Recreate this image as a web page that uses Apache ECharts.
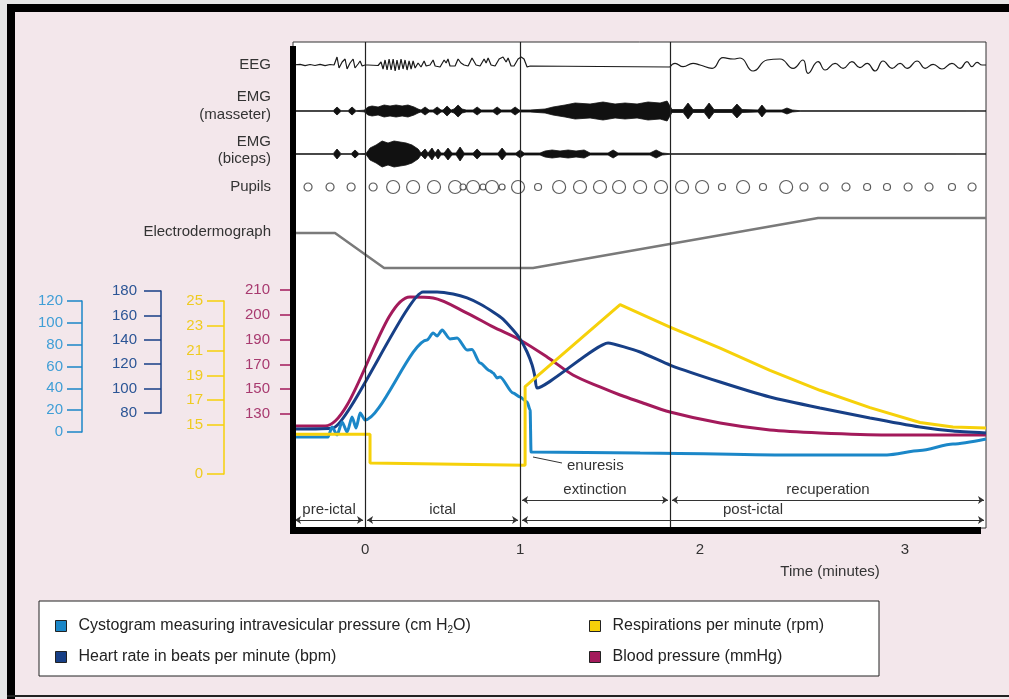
<!DOCTYPE html>
<html><head><meta charset="utf-8">
<script src="https://cdn.jsdelivr.net/npm/echarts@6/dist/echarts.min.js"></script>
<style>html,body{margin:0;padding:0;background:#e9e9e9}#c{width:1009px;height:699px}</style>
</head><body><div id="c"></div><script>
// ---------- time axis (minutes) ----------
const TIME_TICKS = [0, 1, 2, 3];
const T_MIN = -0.465, T_MAX = 3.395;
const BOUNDARIES = [0, 1, 1.833];
const PHASE_NAMES = ['pre-ictal', 'ictal', 'post-ictal', 'extinction', 'recuperation'];
const PHASE_START = [-0.465, 0, 1, 1, 1.833];
const PHASE_END = [0, 1, 3.395, 1.833, 3.395];
const PHASE_ROW = [0, 0, 0, 1, 1];

// ---------- upper traces ----------
const EEG_T = [-0.465,-0.419,-0.387,-0.355,-0.323,-0.290,-0.258,-0.226,-0.200,-0.181,-0.168,-0.148,-0.129,-0.116,-0.097,-0.077,-0.065,-0.045,-0.032,-0.019,0,0.019,0.084,0.103,0.116,0.129,0.142,0.155,0.168,0.181,0.194,0.206,0.219,0.232,0.245,0.258,0.271,0.284,0.297,0.310,0.323,0.342,0.361,0.381,0.394,0.419,0.439,0.452,0.484,0.510,0.523,0.535,0.548,0.581,0.600,0.619,0.639,0.665,0.690,0.716,0.742,0.768,0.781,0.794,0.813,0.839,0.865,0.890,0.910,0.923,0.942,0.961,0.987,1.006,1.022,1.039,1.056,1.444,1.833];
const EEG_V = [0,0.7,-0.7,0.5,-0.5,0.7,-0.7,0.5,0,8,-3,3,6,-4,2,6,-3,1,4,-1,0,0,-0.5,3,-4,5,-5,6,-5,6,-6,5,-5,6,-4,5,-5,4,-4,4,-3,2,-2,4,-1,0,5,-1,-2,5,2,6,-1,-1,6,2,0,-1,7,0,-1,6,2,7,0,-1,6,8,3,7,-1,-1,6,8,6,-2,-1,-1.5,-2];
const EEG_POST_T = [1.833,1.861,1.906,1.961,2.0,2.059,2.112,2.161,2.195,2.259,2.327,2.390,2.454,2.502,2.527,2.576,2.610,2.659,2.698,2.741,2.780,2.815,2.854,2.893,2.937,2.976,3.010,3.059,3.098,3.137,3.180,3.229,3.268,3.302,3.327,3.351,3.376,3.395];
const EEG_POST_V = [-2,1.7,-1.7,1.7,0,-3.3,7.3,6,7,-6,5,6,-3.3,5,-8.3,3.3,-5,1.7,-3.3,3.3,-2.7,1.7,-6,4,-3.3,1.7,-3.3,4,-3.3,0.7,-4,1.7,-3.3,3.3,-1.7,2.7,0,0];

const EMG_M_T = [-0.465,-0.206,-0.181,-0.155,-0.110,-0.084,-0.058,-0.006,0.019,0.045,0.084,0.123,0.161,0.200,0.239,0.277,0.316,0.342,0.361,0.387,0.413,0.439,0.465,0.490,0.503,0.529,0.555,0.574,0.600,0.626,0.652,0.697,0.723,0.748,0.826,0.852,0.877,0.942,0.968,0.994,1.056,1.139,1.183,1.250,1.306,1.389,1.461,1.528,1.583,1.650,1.711,1.778,1.817,1.844,1.906,1.933,1.961,2.020,2.044,2.068,2.156,2.180,2.205,2.283,2.302,2.322,2.400,2.424,2.449,2.488,3.395];
const EMG_M_A = [0.3,0.3,4,0.3,0.3,4,0.3,0.8,4,5,4,6,5,6,5,6,4,2,1,4,1,1,4,1,1,5,1,2,6,2,1,1,4,1,1,4,1,1,4,1,1,2,4,6,8,7,9,7,8,7,9,8,10,1.5,1.5,8,1.5,1.5,8,1.5,1.5,7,1.5,1,6,1,1,3,1,0.3,0.3];

const EMG_B_T = [-0.465,-0.206,-0.181,-0.155,-0.090,-0.065,-0.039,0.006,0.032,0.071,0.110,0.148,0.187,0.226,0.265,0.303,0.342,0.361,0.387,0.406,0.432,0.452,0.471,0.490,0.510,0.535,0.561,0.587,0.613,0.639,0.697,0.723,0.748,0.858,0.884,0.910,0.974,1.0,1.022,1.111,1.139,1.178,1.222,1.267,1.311,1.356,1.389,1.489,1.517,1.544,1.722,1.756,1.789,1.833,3.395];
const EMG_B_A = [0.3,0.3,5,0.3,0.3,4,0.3,0.5,6,9,13,11,13,12,11,9,5,1,5,1,6,1,5,1,1,6,1,1,7,1,1,5,1,1,6,1,1,4,1,1,3,4,3,4,3,4,1,1,4,1,1,4,1,0.3,0.3];

const PUPIL_T = [-0.368,-0.226,-0.090,0.052,0.181,0.310,0.445,0.581,0.632,0.697,0.761,0.819,0.884,0.987,1.1,1.217,1.333,1.444,1.55,1.667,1.783,1.9,2.01,2.107,2.21,2.307,2.42,2.507,2.605,2.712,2.815,2.912,3.015,3.117,3.229,3.327];
const PUPIL_D = [8,8,8,8,13,13,13,13,6,13,6,13,6,13,7,13,13,13,13,13,13,13,13,7,13,7,13,8,8,8,7,7,8,8,7,8];

const EDA_T = [-0.465,-0.194,0.123,1.072,2.576,3.395];
const EDA_V = [42,42,7,7,57,57];

// ---------- lower panel ----------
const CYS_NAME = 'Cystogram measuring intravesicular pressure (cm H2O)';
const HR_NAME = 'Heart rate in beats per minute (bpm)';
const RESP_NAME = 'Respirations per minute (rpm)';
const BP_NAME = 'Blood pressure (mmHg)';

const CYS_T = [-0.465,-0.239,-0.213,-0.181,-0.148,-0.116,-0.084,-0.058,-0.032,0.0,0.4,0.439,0.465,0.497,0.548,0.594,0.658,0.690,0.742,0.806,0.826,0.852,0.871,0.955,1.0,1.039,1.056,1.061,1.667,2.463,2.912,3.073,3.234,3.395];
const CYS_V = [-4.6,-4.6,4.6,-2.7,9.2,0,13.7,3.7,17.4,11.0,84.3,90.7,88,93.4,85.2,86,75.1,75.5,63.2,56,54,49.5,50.4,35.7,32.1,27.5,20.2,-18.3,-19.2,-21.1,-21,-17,-11,-6.4];
const HR_T = [-0.465,-0.206,0.374,0.465,0.568,0.658,0.742,0.826,0.890,0.955,1.0,1.039,1.067,1.083,1.094,1.489,1.667,1.833,2.098,2.341,2.585,2.829,3.073,3.234,3.395];
const HR_V = [66.9,67.7,179.2,179.2,177.5,174.3,169.3,162.8,157.0,148.0,140.7,130.0,119.3,109.5,100.5,137.4,130.0,119.3,105.4,93.1,84.1,75.9,68.5,65.2,63.6];
const RESP_T = [-0.465,0.032,0.032,1.028,1.028,1.556,1.833,2.098,2.341,2.585,2.829,3.073,3.234,3.395];
const RESP_V = [12.2,12.2,3.4,2.7,18.1,24.7,22.9,21.2,19.4,17.8,16.4,15.2,14.4,14.1];
const BP_T = [-0.465,-0.258,0.290,0.439,0.658,0.826,1.0,1.15,1.294,1.444,1.556,1.667,1.833,2.098,2.341,2.585,2.912,3.395];
const BP_V = [120.3,120.3,207.2,206.8,200.7,195.1,189.7,176.0,161.5,151.8,145.3,139.7,131.6,122.7,117.1,114.7,113.1,113.1];

const CYS_TICKS = [0, 120, 20];
const HR_TICKS = [80, 180, 20];
const RESP_TICKS = [0, 15, 17, 19, 21, 23, 25];
const BP_TICKS = [130, 150, 170, 190, 200, 210];

// ---------- axis scale helpers (printed axes are piecewise) ----------
const SEG = [1, 180 / 155, 205 / 155];           // relative printed length of minute 0-1, 1-2, 2-3
function U(t) { if (t <= 1) return t; if (t <= 2) return 1 + (t - 1) * SEG[1]; return 1 + SEG[1] + (t - 2) * SEG[2]; }
const RESP_BREAK = 15, RESP_LOW = 0.2634;        // respiration axis is compressed below 15
function R(v) { return v >= RESP_BREAK ? v : RESP_BREAK - (RESP_BREAK - v) * RESP_LOW; }
function Rinv(u) { return u >= RESP_BREAK ? u : RESP_BREAK - (RESP_BREAK - u) / RESP_LOW; }
function B(v) {
  const k = BP_TICKS;
  if (v <= k[0]) return (v - k[0]) / (k[1] - k[0]);
  for (let i = 0; i < k.length - 1; i++) if (v <= k[i + 1]) return i + (v - k[i]) / (k[i + 1] - k[i]);
  const n = k.length - 1; return n + (v - k[n]) / (k[n] - k[n - 1]);
}
const pts = (T, V, f) => T.map((t, i) => [U(t), f ? f(V[i]) : V[i]]);

const CYAN = '#1b87c8', NAVY = '#173f86', YELLOW = '#f6d10a', MAGENTA = '#a31a5b';
const FONT = '"Liberation Sans", Arial, sans-serif';
const XMIN = U(T_MIN), XMAX = U(T_MAX);
const L = 293, W = 693;
const ROW_Y = [8, 28], GAP = 0.013;

const grids = [
  { left: L, top: 42, width: W, height: 486, show: true, backgroundColor: '#fff', borderColor: '#333', borderWidth: 1 },
  { left: L, top: 45, width: W, height: 40 },
  { left: L, top: 96, width: W, height: 30 },
  { left: L, top: 139, width: W, height: 30 },
  { left: L, top: 177, width: W, height: 20 },
  { left: L, top: 205, width: W, height: 70 },
  { left: L, top: 301, width: W, height: 131 },
  { left: L, top: 291, width: W, height: 122 },
  { left: L, top: 301, width: W, height: 173 },
  { left: L, top: 290, width: W, height: 124 }
];
const xAxes = grids.map((g, i) => i === 0 ? {
  type: 'value', gridIndex: 0, min: XMIN, max: XMAX,
  axisLine: { show: false, onZero: false }, axisTick: { show: false }, splitLine: { show: false },
  axisLabel: {
    customValues: TIME_TICKS.map(U), margin: 14, fontSize: 15, color: '#333',
    formatter: v => { const i = TIME_TICKS.findIndex(t => Math.abs(U(t) - v) < 1e-6); return i >= 0 ? String(TIME_TICKS[i]) : ''; }
  },
  name: 'Time (minutes)', nameLocation: 'middle', nameGap: 36,
  nameTextStyle: { fontSize: 15, color: '#333', padding: [0, 0, 0, 381] }
} : { type: 'value', gridIndex: i, min: XMIN, max: XMAX, show: false, axisLine: { onZero: false } });

function sideAxis(gi, color, lcolor, offset, tickLen, margin, extra) {
  return Object.assign({
    type: 'value', gridIndex: gi, position: 'left', offset: offset,
    axisLine: { show: true, onZero: false, lineStyle: { color: color, width: 1.5 } },
    axisTick: { show: true, length: tickLen, lineStyle: { color: color, width: 1.5 } },
    axisLabel: { color: lcolor, fontSize: 15, margin: margin },
    splitLine: { show: false }
  }, extra);
}
const yAxes = [
  { type: 'value', gridIndex: 0, min: 0, max: 486, show: false },
  { type: 'value', gridIndex: 1, min: -20, max: 20, show: false },
  { type: 'value', gridIndex: 2, min: -15, max: 15, show: false },
  { type: 'value', gridIndex: 3, min: -15, max: 15, show: false },
  { type: 'value', gridIndex: 4, min: -1, max: 1, show: false },
  { type: 'value', gridIndex: 5, min: 0, max: 70, show: false },
  sideAxis(6, CYAN, '#3f9ed6', 211, 15, 19, { min: CYS_TICKS[0], max: CYS_TICKS[1], interval: CYS_TICKS[2] }),
  sideAxis(7, NAVY, '#2b5595', 132, 17, 24, { min: HR_TICKS[0], max: HR_TICKS[1], interval: HR_TICKS[2] }),
  sideAxis(8, YELLOW, '#efcb22', 69, 17, 21, { min: R(0), max: 25 }),
  sideAxis(9, MAGENTA, '#a83a6f', 0, 13, 23, { min: B(BP_TICKS[0]), max: B(BP_TICKS[BP_TICKS.length - 1]) })
];
yAxes[8].axisTick.customValues = RESP_TICKS.map(R);
yAxes[8].axisLabel.customValues = RESP_TICKS.map(R);
yAxes[8].axisLabel.formatter = v => String(Math.round(Rinv(v)) || 0);
yAxes[9].axisLine.show = false;
yAxes[9].axisTick.customValues = BP_TICKS.map(B);
yAxes[9].axisLabel.customValues = BP_TICKS.map(B);
yAxes[9].axisLabel.formatter = v => String(BP_TICKS[Math.round(v)]);

const trace = (name, gi, data, extra) => Object.assign({
  name: name, type: 'line', xAxisIndex: gi, yAxisIndex: gi, data: data, symbol: 'none',
  lineStyle: { color: '#1a1a1a', width: 1.2 }, itemStyle: { color: '#1a1a1a' }, silent: true
}, extra);
const envelope = (name, gi, T, A, sign) => trace(name, gi, T.map((t, i) => [U(t), sign * A[i]]), {
  lineStyle: { color: '#111', width: 0.8 }, areaStyle: { color: '#111', opacity: 1 }
});
const lower = (name, gi, data, color, extra) => Object.assign({
  name: name, type: 'line', xAxisIndex: gi, yAxisIndex: gi, data: data, symbol: 'none', clip: false, z: 3,
  lineStyle: { color: color, width: 3 }, itemStyle: { color: color }
}, extra);

const series = [
  { name: 'boundaries', type: 'line', xAxisIndex: 0, yAxisIndex: 0, data: [], silent: true,
    markLine: { silent: true, symbol: 'none', label: { show: false }, lineStyle: { color: '#222', width: 1.2, type: 'solid' },
      data: BOUNDARIES.map(t => ({ xAxis: U(t) })) } },
  { name: 'phases', type: 'line', xAxisIndex: 0, yAxisIndex: 0, data: [], silent: true,
    markLine: { silent: true, symbol: ['arrow', 'arrow'], symbolSize: 6,
      lineStyle: { color: '#333', width: 1, type: 'solid' },
      label: { show: true, position: 'insideMiddleTop', distance: 3, formatter: '{b}', color: '#333', fontSize: 15 },
      data: PHASE_NAMES.map((n, i) => [
        { name: n, coord: [U(PHASE_START[i]) + GAP, ROW_Y[PHASE_ROW[i]]] },
        { coord: [U(PHASE_END[i]) - GAP, ROW_Y[PHASE_ROW[i]]] }]) } },
  trace('EEG', 1, pts(EEG_T, EEG_V)),
  trace('EEG post', 1, pts(EEG_POST_T, EEG_POST_V), { smooth: 0.5 }),
  envelope('EMG masseter +', 2, EMG_M_T, EMG_M_A, 1),
  envelope('EMG masseter -', 2, EMG_M_T, EMG_M_A, -1),
  envelope('EMG biceps +', 3, EMG_B_T, EMG_B_A, 1),
  envelope('EMG biceps -', 3, EMG_B_T, EMG_B_A, -1),
  { name: 'Pupils', type: 'scatter', xAxisIndex: 4, yAxisIndex: 4, silent: true,
    data: PUPIL_T.map((t, i) => [U(t), 0, PUPIL_D[i]]), symbol: 'circle', symbolSize: v => v[2],
    itemStyle: { color: '#fff', borderColor: '#333', borderWidth: 1.2 } },
  trace('Electrodermograph', 5, pts(EDA_T, EDA_V), { lineStyle: { color: '#7a7a7a', width: 2.5 } }),
  lower(BP_NAME, 9, pts(BP_T, BP_V, B), MAGENTA, { smooth: 0.3 }),
  lower(HR_NAME, 7, pts(HR_T, HR_V), NAVY, { smooth: 0.15 }),
  lower(CYS_NAME, 6, pts(CYS_T, CYS_V), CYAN, { smooth: 0.25, smoothMonotone: 'x' }),
  lower(RESP_NAME, 8, pts(RESP_T, RESP_V, R), YELLOW)
];

const legendBase = {
  orient: 'vertical', top: 612, itemGap: 13, itemWidth: 11, itemHeight: 11, icon: 'rect',
  itemStyle: { borderColor: '#222', borderWidth: 1 }, selectedMode: false,
  textStyle: { fontSize: 16, color: '#222', lineHeight: 18, padding: [0, 0, 0, 7],
    rich: { sub: { fontSize: 10, color: '#222', padding: [8, 0, 0, 0] } } },
  formatter: n => n.replace('H2O', 'H{sub|2}O')
};

const labelText = (txt, y) => ({ type: 'text', x: 271, y: y, silent: true,
  style: { text: txt, align: 'right', verticalAlign: 'middle', font: '15px ' + FONT, fill: '#333' } });

const option = {
  animation: false,
  backgroundColor: '#f3e7eb',
  textStyle: { fontFamily: FONT },
  grid: grids, xAxis: xAxes, yAxis: yAxes, series: series,
  legend: [
    Object.assign({}, legendBase, { left: 50, data: [CYS_NAME, HR_NAME] }),
    Object.assign({}, legendBase, { left: 584, data: [RESP_NAME, BP_NAME] })
  ],
  graphic: [
    { type: 'rect', shape: { x: 0, y: 0, width: 1009, height: 4 }, style: { fill: '#e6e6e6' }, silent: true },
    { type: 'rect', shape: { x: 0, y: 0, width: 7, height: 699 }, style: { fill: '#e6e6e6' }, silent: true },
    { type: 'rect', shape: { x: 7, y: 4, width: 1002, height: 8 }, style: { fill: '#000' }, silent: true },
    { type: 'rect', shape: { x: 7, y: 4, width: 8, height: 695 }, style: { fill: '#000' }, silent: true },
    { type: 'rect', shape: { x: 7, y: 695, width: 1002, height: 2 }, style: { fill: '#222' }, silent: true },
    { type: 'rect', z: 100, shape: { x: 290, y: 46, width: 6, height: 488 }, style: { fill: '#000' }, silent: true },
    { type: 'rect', z: 100, shape: { x: 290, y: 527, width: 691, height: 7 }, style: { fill: '#000' }, silent: true },
    { type: 'rect', z: 1, shape: { x: 39, y: 601, width: 840, height: 75 }, style: { fill: '#fff', stroke: '#222', lineWidth: 1 }, silent: true },
    labelText('EEG', 65),
    labelText('EMG', 97), labelText('(masseter)', 115),
    labelText('EMG', 142), labelText('(biceps)', 159),
    labelText('Pupils', 187),
    labelText('Electrodermograph', 232),
    { type: 'line', z: 100, shape: { x1: 533, y1: 457, x2: 562, y2: 463 }, style: { stroke: '#333', lineWidth: 1 }, silent: true },
    { type: 'text', z: 100, x: 567, y: 466, silent: true,
      style: { text: 'enuresis', align: 'left', verticalAlign: 'middle', font: '15px ' + FONT, fill: '#333' } }
  ]
};
const chart = echarts.init(document.getElementById('c'), null, { renderer: 'canvas' });
chart.setOption(option);
</script></body></html>
